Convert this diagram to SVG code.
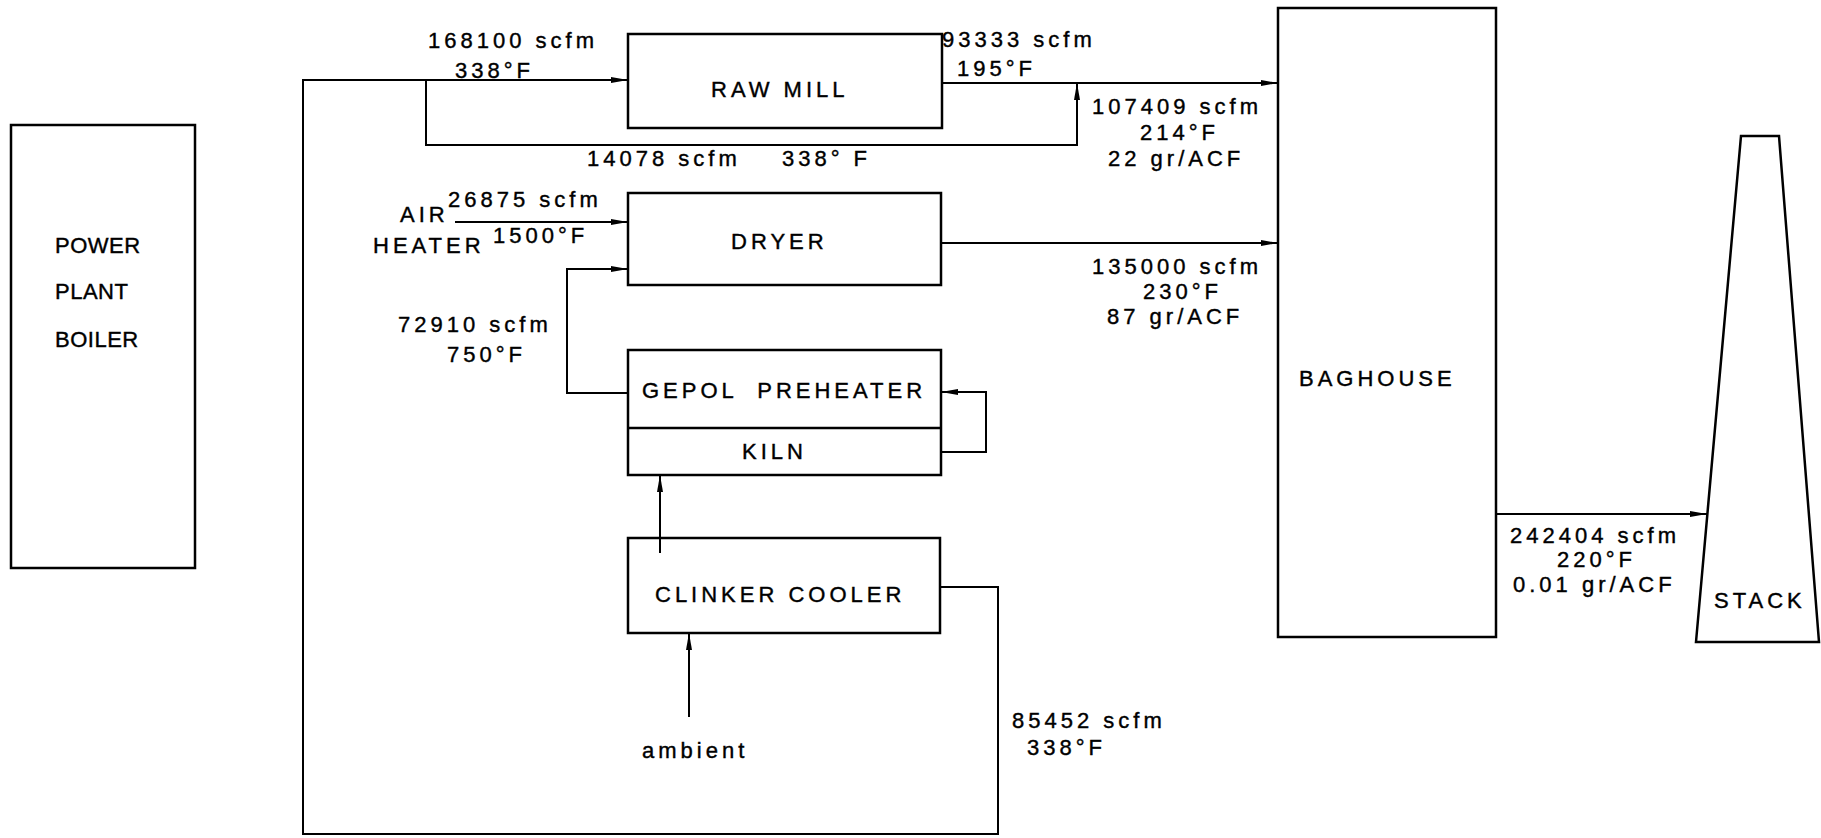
<svg xmlns="http://www.w3.org/2000/svg" width="1821" height="838" viewBox="0 0 1821 838">
<style>
  .box { fill: none; stroke: #000; stroke-width: 2.5; }
  .ln { fill: none; stroke: #000; stroke-width: 2; }
  .arr { marker-end: url(#ah); }
  text { font-family: "Liberation Sans", Arial, sans-serif; font-size: 22px; letter-spacing: 4px; fill: #000; stroke: #000; stroke-width: 0.4; }
  .tight { letter-spacing: 0.5px; }
</style>
<defs>
  <marker id="ah" markerUnits="userSpaceOnUse" markerWidth="18" markerHeight="10" refX="17" refY="5" orient="auto">
    <path d="M0,2 L17,5 L0,8 Q-2,5 0,2 z" fill="#000"/>
  </marker>
</defs>
<rect width="1821" height="838" fill="#fff"/>

<g id="connectors">
  <path class="ln arr" d="M940,587 H998 V834 H303 V80 H628"/>
  <path class="ln arr" d="M426,80 V145 H1077 V83"/>
  <path class="ln arr" d="M942,83 H1278"/>
  <path class="ln arr" d="M455,222 H628"/>
  <path class="ln arr" d="M628,393 H567 V269 H628"/>
  <path class="ln arr" d="M941,243 H1278"/>
  <path class="ln arr" d="M941,452 H986 V392 H941"/>
  <path class="ln arr" d="M660,553 V475"/>
  <path class="ln arr" d="M689,717 V633"/>
  <path class="ln arr" d="M1496,514 H1707"/>
</g>

<g id="boiler">
  <rect class="box" x="11" y="125" width="184" height="443"/>
  <text class="tight" x="55" y="253">POWER</text>
  <text class="tight" x="55" y="299">PLANT</text>
  <text class="tight" x="55" y="347">BOILER</text>
</g>

<g id="rawmill">
  <rect class="box" x="628" y="34" width="314" height="94"/>
  <text x="711" y="97">RAW MILL</text>
</g>

<g id="dryer">
  <rect class="box" x="628" y="193" width="313" height="92"/>
  <text x="731" y="249">DRYER</text>
</g>

<g id="preheater-kiln">
  <rect class="box" x="628" y="350" width="313" height="125"/>
  <line class="box" x1="628" y1="428" x2="941" y2="428"/>
  <text x="642" y="398" xml:space="preserve">GEPOL  PREHEATER</text>
  <text x="742" y="459">KILN</text>
</g>

<g id="clinker">
  <rect class="box" x="628" y="538" width="312" height="95"/>
  <text x="655" y="602">CLINKER COOLER</text>
</g>

<g id="baghouse">
  <rect class="box" x="1278" y="8" width="218" height="629"/>
  <text x="1299" y="386">BAGHOUSE</text>
</g>

<g id="stack">
  <polygon class="box" points="1741,136 1779,136 1819,642 1696,642"/>
  <text x="1714" y="608">STACK</text>
</g>

<g id="airheater">
  <text x="400" y="222">AIR</text>
  <text x="373" y="253">HEATER</text>
</g>

<g id="ambient">
  <text x="642" y="758">ambient</text>
</g>

<g id="labels">
  <text x="428" y="48">168100 scfm</text>
  <text x="455" y="78">338°F</text>
  <text x="587" y="166">14078 scfm</text>
  <text x="782" y="166">338° F</text>
  <text x="942" y="47">93333 scfm</text>
  <text x="957" y="76">195°F</text>
  <text x="1092" y="114">107409 scfm</text>
  <text x="1140" y="140">214°F</text>
  <text x="1108" y="166">22 gr/ACF</text>
  <text x="448" y="207">26875 scfm</text>
  <text x="493" y="243">1500°F</text>
  <text x="398" y="332">72910 scfm</text>
  <text x="447" y="362">750°F</text>
  <text x="1092" y="274">135000 scfm</text>
  <text x="1143" y="299">230°F</text>
  <text x="1107" y="324">87 gr/ACF</text>
  <text x="1012" y="728">85452 scfm</text>
  <text x="1027" y="755">338°F</text>
  <text x="1510" y="543">242404 scfm</text>
  <text x="1557" y="567">220°F</text>
  <text x="1513" y="592">0.01 gr/ACF</text>
</g>
</svg>
